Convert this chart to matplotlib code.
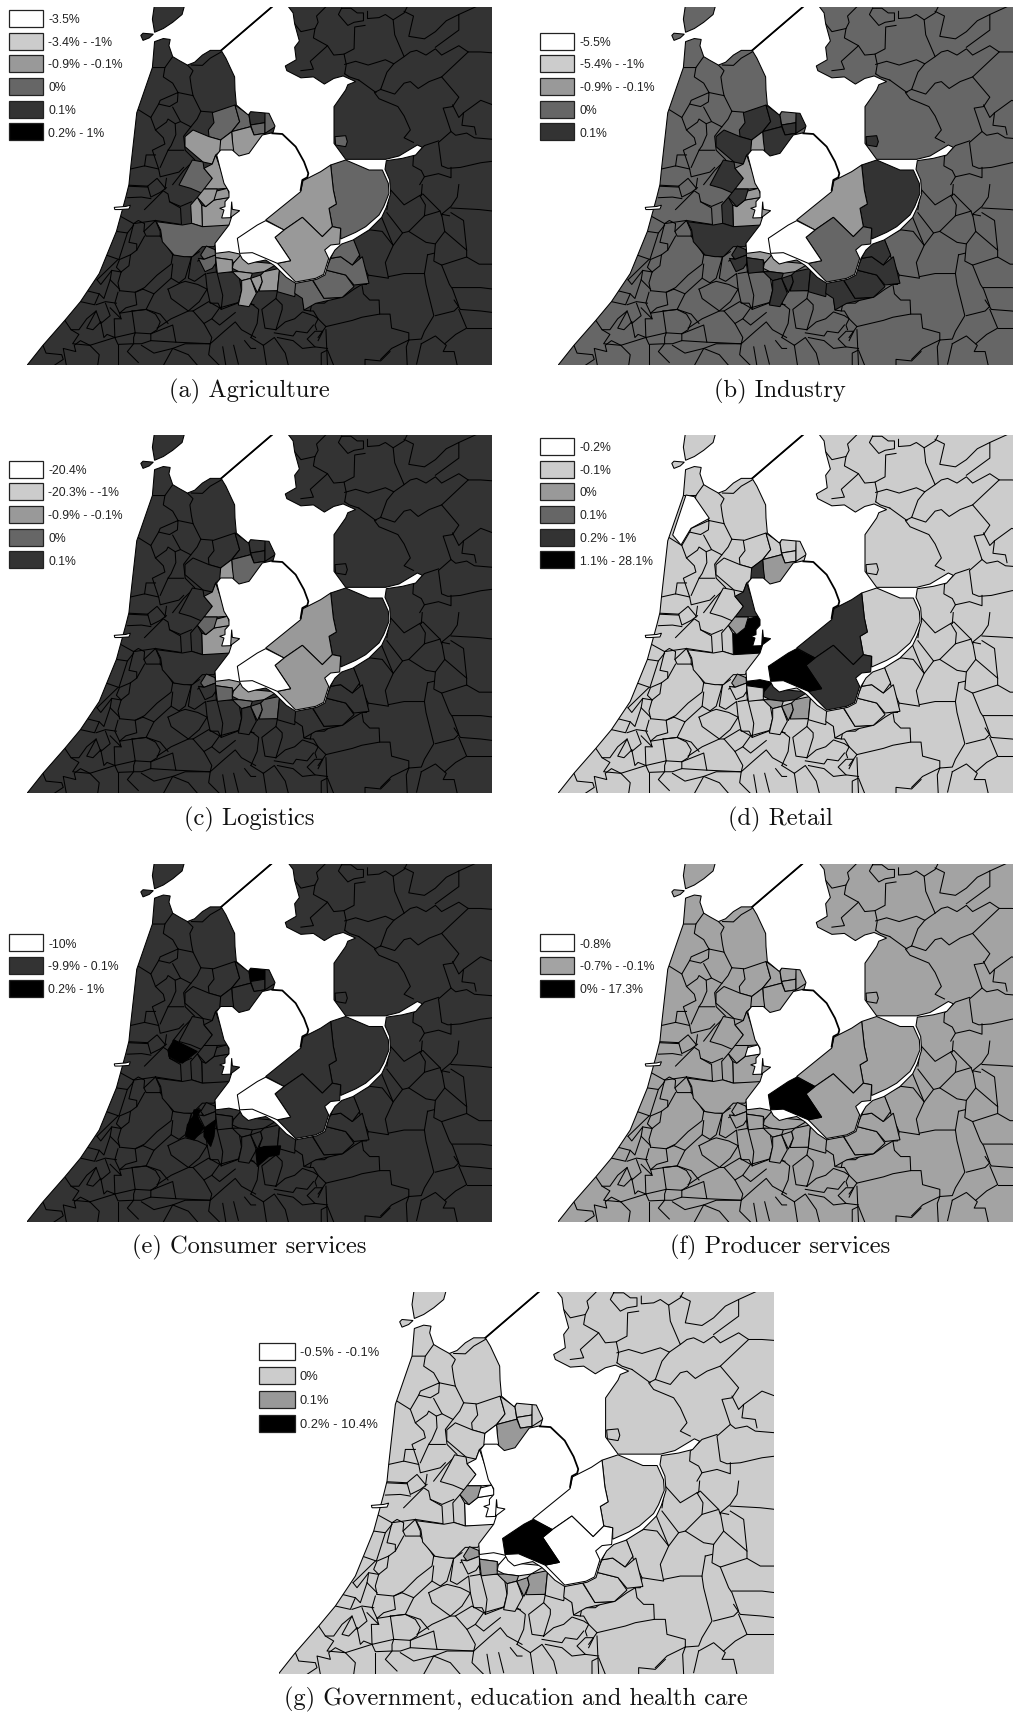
import matplotlib
matplotlib.use("Agg")
import matplotlib.pyplot as plt
from matplotlib.patches import Polygon, Rectangle

W = 1013
H = 1713

# greys used by the classes
WH = "#ffffff"
G1 = "#cccccc"
G2 = "#999999"
G3 = "#666666"
G4 = "#333333"
BK = "#000000"

panel_names = ["a", "b", "c", "d", "e", "f", "g"]
captions = ["(a) Agriculture", "(b) Industry", "(c) Logistics", "(d) Retail",
            "(e) Consumer services", "(f) Producer services",
            "(g) Government, education and health care"]
base_color = {"a": G4, "b": G3, "c": G4, "d": G1, "e": G4, "f": "#a3a3a3", "g": G1}

legend_labels = {
    "a": ["-3.5%", "-3.4% - -1%", "-0.9% - -0.1%", "0%", "0.1%", "0.2% - 1%"],
    "b": ["-5.5%", "-5.4% - -1%", "-0.9% - -0.1%", "0%", "0.1%"],
    "c": ["-20.4%", "-20.3% - -1%", "-0.9% - -0.1%", "0%", "0.1%"],
    "d": ["-0.2%", "-0.1%", "0%", "0.1%", "0.2% - 1%", "1.1% - 28.1%"],
    "e": ["-10%", "-9.9% - 0.1%", "0.2% - 1%"],
    "f": ["-0.8%", "-0.7% - -0.1%", "0% - 17.3%"],
    "g": ["-0.5% - -0.1%", "0%", "0.1%", "0.2% - 10.4%"],
}
legend_colors = {
    "a": [WH, G1, G2, G3, G4, BK],
    "b": [WH, G1, G2, G3, G4],
    "c": [WH, G1, G2, G3, G4],
    "d": [WH, G1, G2, G3, G4, BK],
    "e": [WH, G4, BK],
    "f": [WH, "#a3a3a3", BK],
    "g": [WH, G1, G2, BK],
}

# municipality classes around the lakes, anything not listed keeps the base colour
fills_a = {"N1": G3, "N2": G3, "N4": G3, "N5": G3, "N6": G2, "N7": G2, "N8": G2, "N9": G3, "N10": G2,
           "N11": G2, "N12": G2, "N13": G2, "N14": G2, "N15": G3, "S1a": G3, "S1b": G3, "S2a": G2, "S2b": G2,
           "S3": G2, "S4": G2, "S5": G2, "S6": G2, "S7": G2, "S8": G3, "S9": G3, "S10": G3, "S11": G3,
           "S12": G3, "URK": G3, "NOORD": G3, "LELY": G2, "ALMERE": WH, "ZEEW": G2}
fills_b = {"N1": G4, "N2": G4, "N3": G3, "N4": G4, "N5": G4, "N6": G4, "N7": G2, "N8": G4, "N9": G4, "N10": G2,
           "N11": G4, "N12": G2, "N13": G4, "N14": G2, "N15": G4, "S1a": G4, "S1b": G4, "S2a": G2, "S2b": G4,
           "S3": G2, "S4": G4, "S5": G4, "S6": G4, "S7": G4, "S8": G4, "S9": G4, "S10": G4, "S11": G4,
           "S12": G4, "URK": G4, "NOORD": G4, "LELY": G2, "ALMERE": WH, "ZEEW": G3}
fills_c = {"N6": G3, "N7": G2, "N10": G2, "N11": G3, "N12": G2, "N14": G2, "S1a": G3, "S2a": G2, "S2b": G3,
           "S3": G2, "S4": G3, "S6": G3, "S7": G3, "LELY": G2, "ALMERE": WH, "ZEEW": G2}
fills_d = {"N6": G2, "N7": G4, "N10": G4, "N11": G2, "N12": BK, "N14": BK, "S1a": G2, "S2a": BK, "S3": G4,
           "S4": G2, "S6": G2, "S7": G2, "D1": WH, "LELY": G4, "ALMERE": BK, "ZEEW": G4}
fills_e = {"N3": BK, "E1": BK, "E2": BK, "E3": BK, "E4": BK, "ALMERE": WH}
fills_f = {"N12": WH, "ALMERE": BK}
fills_g = {"N6": G2, "N7": WH, "N10": WH, "N11": G2, "N12": WH, "N14": WH, "S1a": G2, "S2a": WH, "S2b": G2,
           "S3": WH, "S4": G2, "S6": G2, "S7": G2, "LELY": WH, "ALMERE": BK, "ZEEW": WH}
panel_fills = {"a": fills_a, "b": fills_b, "c": fills_c, "d": fills_d, "e": fills_e, "f": fills_f, "g": fills_g}

regions = {
    "N1": [(190, 68), (258, 45), (272, 95), (248, 125), (215, 150), (180, 140), (178, 120), (195, 98)],
    "N2": [(258, 45), (300, 75), (305, 110), (248, 125), (272, 95)],
    "N3": [(300, 75), (305, 62), (350, 65), (348, 98), (305, 105)],
    "N4": [(305, 105), (348, 98), (348, 130), (315, 135)],
    "N5": [(348, 65), (362, 68), (382, 108), (348, 130)],
    "N6": [(248, 125), (305, 110), (315, 135), (348, 130), (300, 195), (270, 205), (250, 185), (250, 150)],
    "N7": [(215, 150), (248, 125), (250, 150), (255, 190), (215, 190), (205, 195)],
    "N8": [(108, 140), (132, 120), (180, 140), (215, 150), (212, 185), (200, 195), (190, 222), (162, 216), (108, 170)],
    "N9": [(90, 285), (130, 210), (162, 216), (165, 235), (190, 265), (160, 310), (125, 295)],
    "N10": [(165, 235), (190, 222), (200, 195), (235, 295), (205, 297), (165, 297), (190, 265)],
    "N14": [(170, 350), (195, 330), (240, 322), (255, 330), (280, 362), (245, 410), (160, 410), (158, 345)],
    "N12": [(195, 305), (235, 295), (245, 322), (195, 330)],
    "N11": [(145, 322), (165, 297), (205, 297), (195, 330), (170, 350)],
    "N13": [(125, 345), (145, 322), (158, 345), (160, 410), (128, 400)],
    "N15": [(22, 395), (100, 405), (128, 400), (160, 410), (245, 405), (195, 470), (160, 470), (130, 500),
            (105, 500), (75, 495), (40, 455), (35, 420)],
    "S1a": [(155, 495), (172, 468), (205, 482), (200, 495), (165, 508)],
    "S1b": [(148, 505), (165, 508), (200, 495), (200, 520), (190, 535), (168, 545)],
    "S2a": [(198, 478), (238, 478), (275, 488), (273, 500), (253, 520), (250, 510), (200, 503)],
    "S2b": [(200, 503), (250, 510), (250, 545), (205, 550)],
    "S3": [(253, 520), (275, 495), (310, 515), (385, 522), (345, 545), (310, 550), (270, 545), (250, 535)],
    "S4": [(250, 545), (270, 545), (310, 550), (305, 565), (278, 572), (265, 560)],
    "S5": [(278, 572), (305, 565), (322, 610), (300, 650), (268, 645), (278, 600)],
    "S6": [(305, 565), (335, 555), (340, 575), (325, 608)],
    "S7": [(335, 555), (345, 545), (392, 535), (385, 602), (330, 603), (340, 575)],
    "S8": [(392, 535), (445, 575), (437, 620), (385, 605)],
    "S9": [(440, 578), (490, 570), (525, 625), (580, 622), (500, 640), (465, 660), (460, 625), (437, 610)],
    "S10": [(490, 568), (530, 540), (590, 555), (615, 590), (580, 622), (525, 625)],
    "S11": [(530, 540), (545, 505), (575, 500), (610, 525), (640, 500), (660, 580), (615, 585), (590, 555)],
    "S12": [(545, 505), (560, 470), (578, 455), (612, 445), (632, 495), (610, 525), (575, 500)],
    "URK": [(558, 140), (590, 137), (595, 155), (590, 170), (560, 165)],
}
# only drawn in the panel that needs them
extra_regions = {
    "D1": [(18, -69), (43, -64), (88, 1), (33, 31), (3, 81), (-22, 51)],
    "E1": [(110, 570), (115, 535), (132, 510), (135, 490), (155, 490), (145, 510), (165, 545), (135, 580)],
    "E2": [(165, 545), (200, 520), (195, 570), (185, 600), (165, 570)],
    "E3": [(320, 610), (345, 600), (395, 598), (390, 625), (360, 630), (325, 660)],
    "E4": [(57, 310), (75, 280), (145, 315), (100, 350), (60, 330)],
}
flevoland = {
    "NOORD": [(545, 225), (590, 210), (660, 240), (700, 240), (718, 280), (720, 310), (704, 350), (690, 375),
              (650, 410), (620, 427), (575, 447), (575, 415), (550, 410), (540, 355), (562, 342), (553, 300)],
    "LELY": [(545, 225), (553, 300), (562, 342), (540, 355), (550, 410), (520, 440), (460, 382), (405, 420),
             (350, 390), (455, 305), (462, 272), (515, 245)],
    "ZEEW": [(460, 382), (520, 440), (550, 410), (575, 415), (572, 462), (545, 465), (527, 480), (539, 505),
             (524, 553), (500, 565), (440, 576), (385, 520), (425, 512), (378, 442), (405, 420)],
    "ALMERE": [(350, 392), (405, 420), (378, 442), (425, 512), (385, 520), (310, 488), (272, 490), (265, 445),
               (325, 405)],
}

# open water
sea_west = [(-60, 1210), (5, 1148), (55, 1085), (125, 1005), (175, 945), (235, 855), (290, 720), (320, 610),
            (330, 570), (335, 520), (355, 340), (405, 195), (412, 112), (440, 102), (462, 105), (458, 125),
            (470, 160), (490, 172), (517, 187), (540, 178), (565, 155), (590, 140), (625, 140), (788, 0),
            (800, -60), (-60, -60)]
lake_north = [(625, 140), (788, 0), (800, -60), (838, -60), (840, 0), (855, 20), (860, 55), (875, 110), (860, 130),
              (865, 170), (830, 190), (835, 205), (880, 228), (920, 225), (955, 248), (985, 230), (1015, 222),
              (1055, 240), (1030, 250)]
lake_middle = [(590, 0), (555, 50), (555, 160), (590, 208), (710, 208), (750, 198), (805, 165), (820, 172), (800, 195),
               (760, 205), (712, 212), (708, 238), (722, 270), (725, 310), (712, 352), (698, 382), (660, 420),
               (612, 450), (578, 462), (558, 480), (543, 505), (528, 555), (503, 568), (440, 580), (412, 562),
               (385, 535), (375, 526), (350, 510), (320, 516), (298, 522), (280, 507), (272, 492), (240, 485),
               (200, 490), (198, 460), (240, 405), (248, 380), (272, 362), (250, 358), (248, 335), (245, 383),
               (218, 384), (225, 360), (212, 355), (228, 350), (228, 335), (240, 322), (240, 305), (225, 280),
               (203, 195), (215, 180), (250, 180), (270, 198), (300, 190), (340, 135), (372, 128), (378, 108),
               (360, 70), (305, 65), (298, 75), (262, 45), (258, 0)]
lake_close = [(668, 225), (640, 165)]
texel = [(415, -30), (405, 40), (412, 82), (440, 70), (470, 50), (500, 25), (515, -30)]
vlieland = [(368, 92), (375, 85), (408, 88), (395, 100), (375, 108)]
pier = [(283, 643), (320, 640), (335, 636), (330, 648), (300, 650), (285, 650)]

dike_houtrib = [(370, 130), (400, 132), (440, 170), (465, 215), (478, 250), (475, 262), (460, 270), (455, 300)]
dike_north = [(625, 140), (788, 0)]

# municipal borders, one list per crop of panel (g)
lines_nw = [
    [(405, 195), (445, 195), (470, 160)],
    [(445, 195), (440, 225), (470, 245), (487, 275), (535, 285), (560, 335)],
    [(517, 187), (535, 205), (525, 225), (530, 260), (535, 285)],
    [(530, 187), (565, 188), (590, 165), (625, 145)],
    [(597, 338), (560, 335)],
    [(487, 275), (430, 300), (425, 312), (460, 320), (485, 305), (487, 275)],
    [(470, 322), (495, 368), (528, 385)],
    [(560, 335), (548, 360), (528, 385), (505, 415), (510, 460), (540, 490)],
    [(360, 330), (400, 355), (425, 312)],
    [(400, 355), (415, 395), (440, 420), (445, 440), (405, 460), (415, 490), (425, 520)],
    [(415, 395), (450, 370), (455, 360), (478, 375), (495, 368)],
    [(478, 375), (480, 410), (465, 445), (455, 460), (505, 460)],
    [(380, 510), (385, 475), (415, 475)],
    [(335, 520), (380, 510), (425, 520), (430, 545), (490, 530), (505, 515)],
    [(455, 460), (430, 515)],
    [(450, 550), (445, 585)],
    [(390, 575), (420, 550), (445, 580)],
    [(325, 575), (390, 578)],
    [(470, 570), (505, 525), (530, 500)],
]
lines_sw = [
    [(330, 2), (390, 5), (400, 40), (430, 25), (450, 10)],
    [(325, 42), (370, 40), (400, 45)],
    [(380, 80), (440, 20), (455, 30), (460, 55), (495, 75), (498, 128), (415, 115), (345, 125), (300, 100)],
    [(460, 55), (495, 70), (530, 55)],
    [(415, 115), (378, 150), (385, 165), (430, 165), (430, 150), (415, 115)],
    [(345, 125), (360, 115), (380, 125), (378, 150)],
    [(345, 125), (330, 185), (355, 190), (355, 210), (335, 225), (300, 240), (290, 265), (305, 280)],
    [(290, 150), (325, 155), (345, 130)],
    [(325, 155), (298, 240), (255, 225)],
    [(355, 210), (380, 165)],
    [(335, 225), (330, 260), (305, 280), (295, 315), (300, 340)],
    [(228, 305), (295, 240)],
    [(228, 305), (240, 320), (275, 275), (305, 280)],
    [(275, 275), (270, 305), (300, 335)],
    [(430, 165), (470, 225), (465, 255), (420, 290), (380, 330), (350, 345), (300, 340)],
    [(470, 225), (530, 232), (510, 300), (490, 315), (465, 300), (470, 255)],
    [(465, 300), (410, 350), (375, 335)],
    [(410, 350), (385, 400), (430, 415), (455, 445)],
    [(375, 335), (350, 345), (355, 385), (320, 395), (300, 412), (285, 380), (295, 345)],
    [(385, 400), (345, 405), (300, 412)],
    [(195, 340), (235, 350), (220, 385), (175, 375)],
    [(235, 350), (250, 365), (270, 305)],
    [(225, 385), (255, 375), (290, 380)],
    [(255, 380), (270, 420), (240, 445), (225, 405), (195, 460), (215, 465), (240, 440)],
    [(270, 395), (305, 430), (300, 412)],
    [(125, 435), (145, 465), (170, 465), (195, 430), (225, 405)],
    [(340, 405), (350, 475), (285, 490), (283, 430), (305, 430)],
    [(340, 405), (385, 400), (415, 415), (430, 440), (420, 465), (400, 478), (350, 475)],
    [(350, 475), (345, 490), (345, 510), (370, 510), (400, 500), (400, 478)],
    [(420, 460), (465, 430), (520, 405), (535, 405), (570, 445), (595, 490), (590, 510), (480, 505), (470, 450),
     (400, 478)],
    [(400, 500), (480, 505)],
    [(455, 335), (465, 365), (520, 405), (555, 375), (580, 335)],
    [(455, 335), (495, 315), (510, 310), (550, 320), (580, 335)],
    [(535, 405), (585, 375), (620, 395), (690, 375)],
    [(620, 395), (595, 430), (620, 450), (670, 410)],
    [(595, 430), (570, 445)],
    [(285, 490), (260, 480), (250, 490), (240, 440)],
    [(285, 490), (295, 512), (345, 510), (325, 535), (360, 570)],
    [(285, 490), (205, 515), (150, 510), (170, 480), (145, 465)],
    [(205, 515), (235, 545), (230, 580)],
    [(205, 515), (175, 500), (155, 515), (160, 535), (120, 525), (130, 580)],
    [(55, 515), (65, 540), (115, 545), (120, 560), (90, 580)],
    [(295, 515), (295, 580)],
    [(370, 515), (410, 540), (470, 525), (510, 510), (590, 510), (585, 545), (620, 580)],
    [(440, 580), (470, 525), (520, 545), (550, 580)],
    [(590, 510), (635, 470), (670, 440), (690, 465), (735, 490)],
    [(630, 520), (640, 580)],
    [(665, 515), (680, 575)],
    [(700, 500), (720, 525), (735, 525)],
    [(530, 232), (555, 215)],
    [(530, 232), (520, 300), (540, 310), (575, 285), (580, 335), (590, 380), (615, 380), (625, 400), (690, 375)],
    [(550, 245), (585, 225), (605, 240), (610, 280), (580, 285)],
    [(610, 275), (630, 355), (625, 400)],
    [(610, 280), (680, 280), (690, 340), (680, 380), (730, 385)],
    [(690, 300), (735, 305)],
]
lines_se = [
    [(140, 345), (165, 360), (170, 402), (190, 405), (195, 380), (235, 380), (255, 365), (295, 360), (330, 335), (355, 320)],
    [(325, 250), (345, 225), (375, 290), (370, 320), (355, 320), (360, 350), (380, 370), (410, 370), (412, 415), (355, 425),
     (325, 435), (240, 455), (215, 430), (200, 405), (190, 405)],
    [(325, 170), (348, 228)],
    [(330, 170), (380, 145), (420, 150), (455, 195), (430, 250), (440, 300), (375, 290)],
    [(440, 295), (490, 285), (555, 285), (560, 320), (585, 420), (555, 470), (545, 495), (505, 498), (505, 475), (450, 460),
     (445, 415), (412, 415)],
    [(410, 85), (455, 195), (485, 155), (435, 90)],
    [(445, 15), (490, 65), (540, 35), (558, 65), (555, 100), (505, 150), (485, 155)],
    [(435, 80), (445, 15)],
    [(505, 150), (560, 185), (590, 190), (620, 150), (610, 95), (635, 100)],
    [(540, 35), (550, 30), (605, 85), (610, 100)],
    [(555, 100), (605, 85)],
    [(590, 190), (585, 245), (610, 258), (690, 232), (730, 255), (775, 255)],
    [(565, 225), (585, 220)],
    [(565, 225), (555, 285)],
    [(610, 258), (635, 320), (645, 335), (665, 390), (650, 405), (590, 420)],
    [(645, 330), (735, 330), (775, 335)],
    [(650, 370), (670, 400), (735, 405), (775, 410)],
    [(665, 400), (690, 460), (655, 480), (620, 510)],
    [(620, 150), (690, 210), (690, 232)],
    [(640, 90), (680, 115), (690, 210)],
    [(640, 75), (730, 80), (775, 85)],
    [(548, 0), (545, 35)],
    [(665, 0), (660, 40), (640, 70), (610, 95)],
    [(545, 510), (590, 485), (625, 515), (615, 535), (650, 535), (660, 580)],
    [(690, 460), (775, 460)],
    [(505, 498), (497, 520), (500, 580)],
    [(530, 575), (545, 510)],
    [(445, 535), (415, 565), (365, 560), (365, 580)],
    [(505, 498), (450, 525), (415, 560)],
    [(240, 465), (245, 580)],
    [(240, 455), (215, 490)],
    [(80, 465), (110, 440), (140, 430), (165, 408), (200, 420), (215, 430), (205, 450), (210, 465)],
    [(80, 465), (100, 400), (100, 385), (80, 365), (35, 400), (45, 460), (80, 465)],
    [(80, 365), (85, 340)],
    [(15, 335), (80, 340)],
    [(0, 490), (20, 445), (25, 400), (0, 380)],
    [(75, 475), (135, 485), (145, 470), (180, 475), (200, 450)],
    [(85, 490), (135, 500), (165, 525), (205, 520), (245, 525)],
    [(205, 520), (180, 495), (205, 470), (230, 470), (215, 500)],
    [(40, 515), (75, 490), (110, 540), (120, 580)],
    [(40, 515), (50, 580)],
    [(0, 490), (40, 515)],
    [(225, 580), (225, 540), (245, 530), (265, 580)],
]
lines_ne = [
    [(140, 55), (160, 80), (205, 70), (215, 50), (210, 30), (240, 0)],
    [(205, 70), (200, 100), (245, 125), (190, 175), (200, 200), (160, 205)],
    [(245, 125), (265, 155), (298, 152), (330, 135), (332, 65), (365, 60)],
    [(298, 152), (305, 185), (300, 215)],
    [(300, 185), (335, 175), (375, 187), (430, 170), (457, 183), (490, 160)],
    [(290, 5), (280, 25), (310, 60), (330, 50), (360, 45), (360, 20), (340, 20), (320, 5), (290, 5)],
    [(373, 15), (373, 38), (410, 35), (430, 25), (455, 42), (490, 20), (500, 0)],
    [(455, 42), (460, 90), (490, 160), (510, 145), (530, 140), (560, 155), (590, 135), (610, 155), (665, 125), (695, 145),
     (735, 145), (775, 148)],
    [(490, 15), (520, 30), (505, 95), (555, 103), (590, 80), (625, 45), (665, 25), (665, 75), (590, 130)],
    [(665, 25), (720, 0)],
    [(457, 183), (435, 210), (415, 265)],
    [(400, 275), (345, 235)],
    [(300, 215), (315, 225), (345, 235)],
    [(415, 265), (395, 275), (410, 295), (470, 320), (490, 350), (510, 395), (490, 420), (520, 435)],
    [(415, 265), (460, 280), (490, 245), (510, 240), (535, 262), (570, 240), (610, 225), (695, 145)],
    [(610, 225), (665, 290), (645, 320), (615, 325), (640, 400), (655, 412), (690, 405), (715, 420), (775, 425)],
    [(645, 315), (665, 355), (680, 340), (675, 380), (715, 385), (720, 410)],
    [(680, 340), (735, 300), (775, 315)],
    [(640, 400), (600, 435), (610, 510), (630, 518), (670, 515), (735, 500), (775, 495)],
    [(600, 430), (555, 445), (520, 480), (518, 510), (545, 525), (555, 545), (540, 570)],
    [(555, 545), (600, 535), (640, 548), (640, 515)],
]
line_groups = [(lines_nw, 0, 0), (lines_sw, 0, 570), (lines_se, 720, 570), (lines_ne, 720, 0)]

LW = 0.75


# traced coordinates come in two pixel grids, put both on the panel (a) grid
def from_g(pts, dx=0, dy=0):
    return [(27.3 + (x + dx - 5) * 0.3127, 7 + (y + dy - 1) * 0.3121) for x, y in pts]


def from_c(pts):
    return [(x / 3 + 149, y / 3 + 90) for x, y in pts]


def draw_map(ax, name):
    base = base_color[name]
    fills = panel_fills[name]
    ax.set_xlim(27.3, 492)
    ax.set_ylim(365, 7)
    ax.axis("off")
    ax.add_patch(Rectangle((27.3, 7), 464.7, 358, facecolor=base, edgecolor="none", zorder=0))
    for group, dx, dy in line_groups:
        for pts in group:
            xy = from_g(pts, dx, dy)
            ax.plot([p[0] for p in xy], [p[1] for p in xy], color="black", lw=LW, zorder=1)
    for key in regions:
        ax.add_patch(Polygon(from_c(regions[key]), closed=True, facecolor=fills.get(key, base),
                             edgecolor="black", lw=LW, zorder=2))
    for key in extra_regions:
        if key in fills:
            ax.add_patch(Polygon(from_c(extra_regions[key]), closed=True, facecolor=fills[key],
                                 edgecolor="black", lw=LW, zorder=3))
    water = from_g(lake_north) + from_c(lake_middle) + from_g(lake_close)
    ax.add_patch(Polygon(water, closed=True, facecolor="white", edgecolor="black", lw=LW, zorder=4))
    ax.add_patch(Polygon(from_g(sea_west), closed=True, facecolor="white", edgecolor="black", lw=LW, zorder=4))
    for key in flevoland:
        ax.add_patch(Polygon(from_c(flevoland[key]), closed=True, facecolor=fills.get(key, base),
                             edgecolor="black", lw=LW, zorder=5))
    for island in [texel, vlieland]:
        ax.add_patch(Polygon(from_g(island), closed=True, facecolor=base, edgecolor="black", lw=LW, zorder=5))
    ax.add_patch(Polygon(from_g(pier), closed=True, facecolor="white", edgecolor="black", lw=LW, zorder=5))
    for dike, conv in [(dike_houtrib, from_c), (dike_north, from_g)]:
        xy = conv(dike)
        ax.plot([p[0] for p in xy], [p[1] for p in xy], color="black", lw=1.3, zorder=6)


fig = plt.figure(figsize=(W / 100, H / 100), dpi=100)


def add_map_axes(left, right, top, bottom):
    return fig.add_axes([left / W, 1 - bottom / H, (right - left) / W, (bottom - top) / H])


offsets = {"a": (0, 0), "b": (531, 0), "c": (0, 428), "d": (531, 428), "e": (0, 856.5), "f": (531, 856.5)}
for name in panel_names[:6]:
    dx, dy = offsets[name]
    draw_map(add_map_axes(27.3 + dx, 492 + dx, 7 + dy, 365 + dy), name)
draw_map(add_map_axes(278.7, 774, 1291.5, 1673.7), "g")

# legends and captions sit in figure pixels
over = fig.add_axes([0, 0, 1, 1], facecolor="none")
over.set_xlim(0, W)
over.set_ylim(H, 0)
over.axis("off")


def draw_legend(name, x, y_last, bw, bh, pitch, size):
    labels = legend_labels[name]
    n = len(labels)
    for i in range(n):
        y = y_last - (n - 1 - i) * pitch
        over.add_patch(Rectangle((x, y), bw, bh, facecolor=legend_colors[name][i], edgecolor="#222222", lw=0.9))
        over.text(x + bw + 5.5, y + bh / 2 + 1.8, labels[i], fontsize=size, family="Liberation Sans",
                  va="center", ha="left", color="#222222")


for name in panel_names[:6]:
    dx, dy = offsets[name]
    draw_legend(name, 9 + dx, 123.3 + dy, 34, 17, 22.7, 8.8)
    over.text(249 + dx, 391 + dy, captions[panel_names.index(name)], family="cmr10", fontsize=17.6,
              ha="center", va="center", color="#111111")
draw_legend("g", 259, 1414.7, 35.5, 17.7, 24, 9.3)
over.text(515.5, 1699.5, captions[6], family="cmr10", fontsize=17.6, ha="center", va="center", color="#111111")

fig.savefig("out.png", dpi=100)
